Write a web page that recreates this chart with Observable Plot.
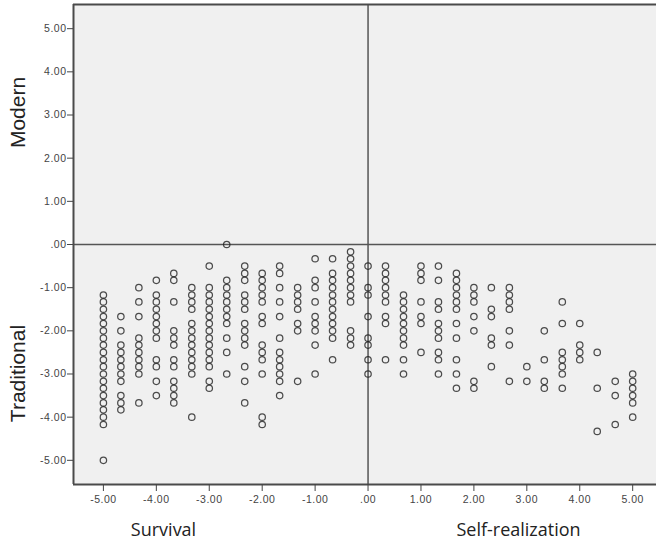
<!DOCTYPE html>
<html>
<head>
<meta charset="utf-8">
<script src="https://cdn.jsdelivr.net/npm/d3@7"></script>
<script src="https://cdn.jsdelivr.net/npm/@observablehq/plot@0.6"></script>
<style>
  html, body { margin: 0; padding: 0; background: #fff; }
  #chart { width: 656px; height: 548px; }
</style>
</head>
<body>
<div id="chart"></div>
<script>
// Column x positions (Survival <-> Self-realization score)
const columnX = [-5, -4.67, -4.33, -4, -3.67, -3.33, -3, -2.67, -2.33, -2, -1.67, -1.33, -1, -0.67, -0.33,
  0, 0.33, 0.67, 1, 1.33, 1.67, 2, 2.33, 2.67, 3, 3.33, 3.67, 4, 4.33, 4.67, 5];

// Y values (Traditional <-> Modern score) of the points in each column
const columnY = [
  [-1.17,-1.33,-1.5,-1.67,-1.83,-2,-2.17,-2.33,-2.5,-2.67,-2.83,-3,-3.17,-3.33,-3.5,-3.67,-3.83,-4,-4.17,-5],
  [-1.67,-2,-2.33,-2.5,-2.67,-2.83,-3,-3.17,-3.5,-3.67,-3.83],
  [-1,-1.33,-1.67,-2.17,-2.33,-2.5,-2.67,-2.83,-3,-3.67],
  [-0.83,-1.17,-1.33,-1.5,-1.67,-1.83,-2,-2.17,-2.67,-2.83,-3.17,-3.5],
  [-0.67,-0.83,-1.33,-2,-2.17,-2.33,-2.67,-2.83,-3.17,-3.33,-3.5,-3.67],
  [-1,-1.17,-1.33,-1.5,-1.83,-2,-2.17,-2.33,-2.5,-2.67,-2.83,-3,-4],
  [-0.5,-1,-1.17,-1.33,-1.5,-1.67,-1.83,-2,-2.17,-2.33,-2.5,-2.67,-2.83,-3.17,-3.33],
  [0,-0.83,-1,-1.17,-1.33,-1.5,-1.67,-1.83,-2.17,-2.5,-3],
  [-0.5,-0.67,-0.83,-1.17,-1.33,-1.5,-1.83,-2,-2.17,-2.33,-2.83,-3.17,-3.67],
  [-0.67,-0.83,-1,-1.17,-1.33,-1.67,-1.83,-2.33,-2.5,-2.67,-3,-4,-4.17],
  [-0.5,-0.67,-1,-1.33,-1.67,-2.17,-2.5,-2.67,-2.83,-3,-3.17,-3.5],
  [-1,-1.17,-1.33,-1.5,-1.83,-2,-3.17],
  [-0.33,-0.83,-1,-1.33,-1.67,-1.83,-2,-2.33,-3],
  [-0.33,-0.67,-0.83,-1,-1.17,-1.33,-1.5,-1.67,-1.83,-2,-2.17,-2.67],
  [-0.17,-0.33,-0.5,-0.67,-0.83,-1,-1.17,-1.33,-2,-2.17,-2.33],
  [-0.5,-1,-1.17,-1.67,-2.17,-2.33,-2.67,-3],
  [-0.5,-0.67,-0.83,-1,-1.17,-1.33,-1.67,-1.83,-2.67],
  [-1.17,-1.33,-1.5,-1.67,-1.83,-2,-2.17,-2.33,-2.67,-3],
  [-0.5,-0.67,-0.83,-1.33,-1.67,-1.83,-2.5],
  [-0.5,-0.83,-1.33,-1.5,-1.83,-2,-2.17,-2.5,-2.67,-3],
  [-0.67,-0.83,-1,-1.17,-1.33,-1.5,-1.83,-2.17,-2.67,-3,-3.33],
  [-1,-1.17,-1.33,-1.67,-2,-3.17,-3.33],
  [-1,-1.5,-1.67,-2.17,-2.33,-2.83],
  [-1,-1.17,-1.33,-1.5,-2,-2.33,-3.17],
  [-2.83,-3.17],
  [-2,-2.67,-3.17,-3.33],
  [-1.33,-1.83,-2.5,-2.67,-2.83,-3,-3.33],
  [-1.83,-2.33,-2.5,-2.67],
  [-2.5,-3.33,-4.33],
  [-3.17,-3.5,-4.17],
  [-3,-3.17,-3.33,-3.5,-3.67,-4]
];

const xTicks = [-5, -4, -3, -2, -1, 0, 1, 2, 3, 4, 5];
const xTickLabels = ["-5.00", "-4.00", "-3.00", "-2.00", "-1.00", ".00", "1.00", "2.00", "3.00", "4.00", "5.00"];
const yTicks = [-5, -4, -3, -2, -1, 0, 1, 2, 3, 4, 5];
const yTickLabels = ["-5.00", "-4.00", "-3.00", "-2.00", "-1.00", ".00", "1.00", "2.00", "3.00", "4.00", "5.00"];
const xTitles = ["Survival", "Self-realization"];
const yTitles = ["Modern", "Traditional"];
const xDomain = [-5.565, 5.45];
const yDomain = [-5.56, 5.56];

const points = columnX.flatMap((x, i) => columnY[i].map(y => ({x, y})));

const frameColor = "#4a4a4a";

const chart = Plot.plot({
  width: 656,
  height: 548,
  marginLeft: 73,
  marginRight: 0,
  marginTop: 4,
  marginBottom: 64,
  style: {fontFamily: "'Liberation Sans', Arial, sans-serif", background: "#fff"},
  x: {domain: xDomain},
  y: {domain: yDomain},
  marks: [
    Plot.frame({fill: "#f0f0f0", stroke: null}),
    Plot.ruleX([0], {stroke: "#555", strokeWidth: 1.5}),
    Plot.ruleY([0], {stroke: "#555", strokeWidth: 1.5}),
    Plot.dot(points, {x: "x", y: "y", r: 3.2, stroke: "#222", strokeOpacity: 0.8, strokeWidth: 1.25, fill: "none"}),
    Plot.ruleX([xDomain[0]], {stroke: frameColor, strokeWidth: 2}),
    Plot.ruleY([yDomain[0]], {stroke: frameColor, strokeWidth: 2}),
    Plot.ruleY([yDomain[1]], {stroke: frameColor, strokeWidth: 2}),
    Plot.axisX({ticks: xTicks, tickFormat: d => xTickLabels[xTicks.indexOf(d)], tickSize: 7, tickPadding: 4,
      fontSize: 10.5, color: "#444", label: null}),
    Plot.axisY({ticks: yTicks, tickFormat: d => yTickLabels[yTicks.indexOf(d)], tickSize: 6, tickPadding: 1,
      fontSize: 10.5, color: "#444", label: null}),
    Plot.text([xTitles[0]], {frameAnchor: "bottom-left", textAnchor: "middle", dx: 90, dy: 51, text: d => d,
      fontSize: 18, fontFamily: "'Open Sans', sans-serif", fill: "#222"}),
    Plot.text([xTitles[1]], {frameAnchor: "bottom-left", textAnchor: "middle", dx: 445, dy: 51, text: d => d,
      fontSize: 18, fontFamily: "'Open Sans', sans-serif", fill: "#222"}),
    Plot.text([yTitles[0]], {frameAnchor: "left", textAnchor: "middle", dx: -55, dy: -132, rotate: -90, text: d => d,
      fontSize: 21, fill: "#222"}),
    Plot.text([yTitles[1]], {frameAnchor: "left", textAnchor: "middle", dx: -55, dy: 129, rotate: -90, text: d => d,
      fontSize: 21, fill: "#222"})
  ]
});

d3.select(chart).selectAll('g[aria-label$="tick label"] text').attr("letter-spacing", "0.5px");
document.getElementById("chart").appendChild(chart);
</script>
</body>
</html>
